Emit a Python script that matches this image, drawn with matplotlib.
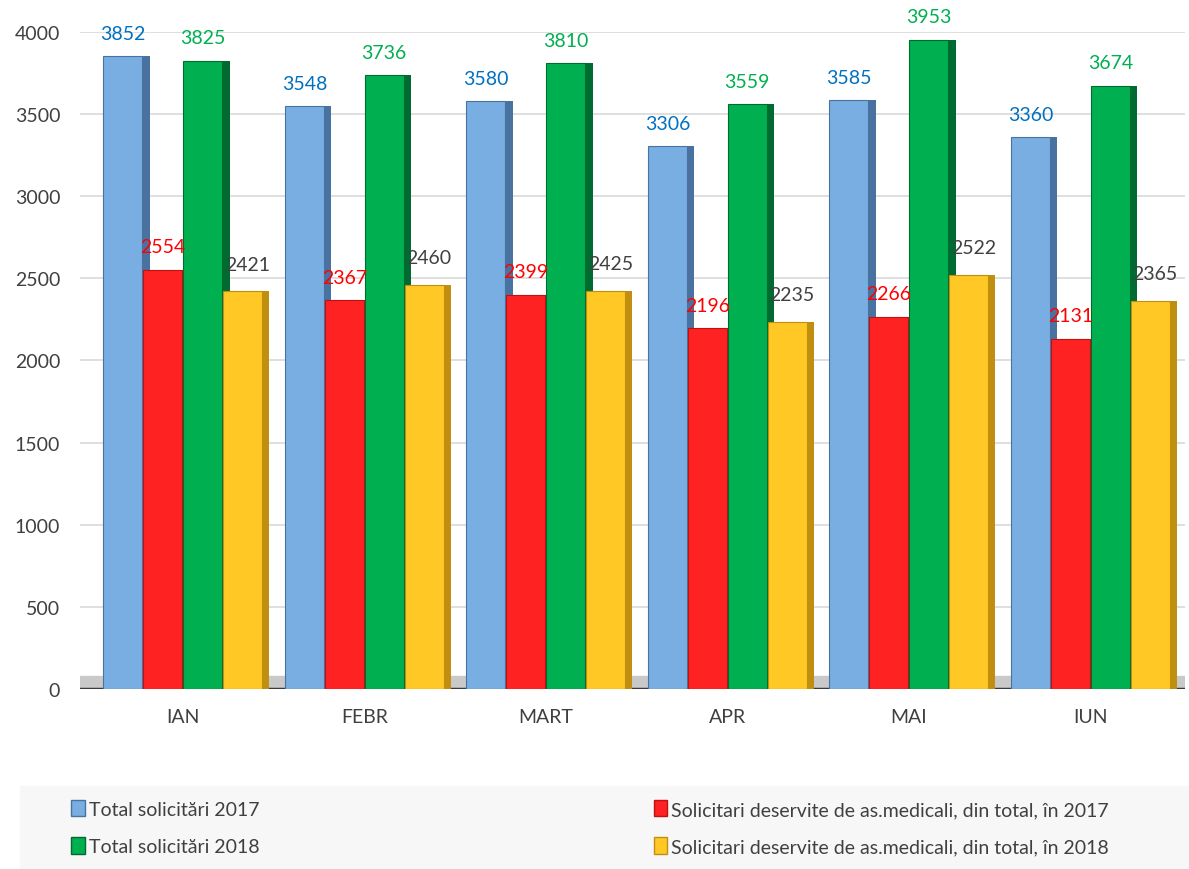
import numpy as np
import matplotlib.pyplot as plt
from matplotlib.patches import Patch, Rectangle

plt.rcParams['font.family'] = ['Lato', 'DejaVu Sans']

# data
months = ['IAN', 'FEBR', 'MART', 'APR', 'MAI', 'IUN']
total_2017 = [3852, 3548, 3580, 3306, 3585, 3360]
asmed_2017 = [2554, 2367, 2399, 2196, 2266, 2131]
total_2018 = [3825, 3736, 3810, 3559, 3953, 3674]
asmed_2018 = [2421, 2460, 2425, 2235, 2522, 2365]

names = ['Total solicitări 2017',
         'Solicitari deservite de as.medicali, din total, în 2017',
         'Total solicitări 2018',
         'Solicitari deservite de as.medicali, din total, în 2018']

series = [total_2017, asmed_2017, total_2018, asmed_2018]
face = ['#78aee2', '#ff2222', '#00b050', '#ffc825']
side = ['#4a72a0', '#c01010', '#006b30', '#c08f10']
lab_col = ['#0070c0', '#ff0000', '#00b050', '#404040']
offsets = [-0.33, -0.11, 0.11, 0.33]
lab_dx = [0.0, 0.0, 0.0, 0.025]
lab_dy = [140, 140, 140, 165]
w = 0.215

fig = plt.figure(figsize=(11.89, 8.70), dpi=100)
ax = fig.add_axes([0.067, 0.207, 0.93, 0.755])

x = np.arange(len(months))

# floor and grid
ax.axhspan(0, 80, color='#c9c9c9', zorder=0)
for yv in range(500, 4001, 500):
    ax.axhline(yv, color='#d9d9d9', lw=1.2, zorder=0)
ax.axhline(0, color='#3a3a3a', lw=2.5, zorder=1)

for i, vals in enumerate(series):
    xs = x + offsets[i]
    ax.bar(xs, vals, width=w, color=face[i], edgecolor=side[i], lw=0.8, zorder=3)
    # darker strip on the right for a bit of depth
    ax.bar(xs + w / 2 + 0.02, vals, width=0.04, color=side[i], lw=0, zorder=2)
    for xi, v in zip(xs, vals):
        ax.text(xi + lab_dx[i], v + lab_dy[i], str(v), ha='center', va='center',
                color=lab_col[i], fontsize=14, zorder=5)

ax.set_xlim(-0.568, 5.524)
ax.set_ylim(0, 4000)
ax.set_yticks(range(0, 4001, 500))
ax.set_xticks(x)
ax.set_xticklabels(months)
ax.tick_params(axis='both', length=0, labelsize=14, colors='#404040')
ax.tick_params(axis='x', pad=14)
ax.tick_params(axis='y', pad=14)
for s in ax.spines.values():
    s.set_visible(False)

# legend area
fig.patches.append(Rectangle((0.017, 0.0), 0.983, 0.095, transform=fig.transFigure,
                             color='#f7f7f7', zorder=0))
order = [0, 2, 1, 3]
handles = [Patch(facecolor=face[k], edgecolor=side[k], label=names[k]) for k in order]
fig.legend(handles=handles, ncol=2, frameon=False,
           bbox_to_anchor=(0.045, 0.0475), loc='center left',
           fontsize=14, labelcolor='#404040', handlelength=0.7, handleheight=0.9,
           handletextpad=0.2, labelspacing=1.0, columnspacing=20.3)

fig.savefig('out.png', dpi=100)
